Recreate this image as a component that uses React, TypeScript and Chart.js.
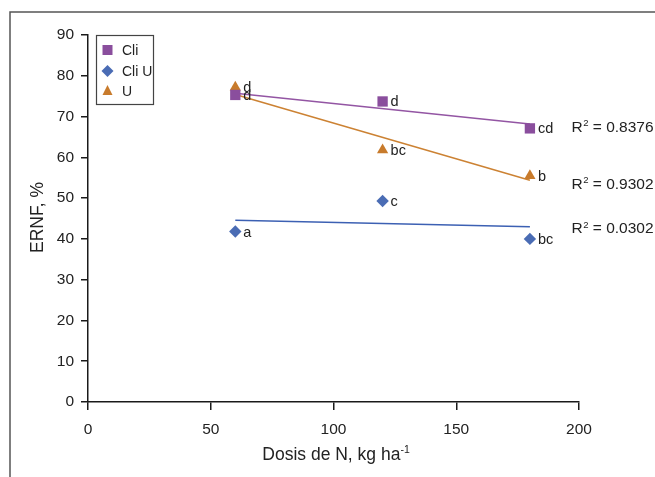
import React, { useEffect, useRef } from 'react';
import { Chart, registerables } from 'chart.js';
Chart.register(...registerables);

const doses = [60, 120, 180];
const cli = [75.3, 73.7, 67.1];
const cliU = [41.8, 49.3, 40.0];
const u = [77.2, 61.8, 55.5];
const cliLetters = ['d', 'd', 'cd'];
const cliULetters = ['a', 'c', 'bc'];
const uLetters = ['d', 'bc', 'b'];
const trendX = [60, 180];
const trendCli = [75.7, 68.2];
const trendCliU = [44.6, 43.0];
const trendU = [75.4, 54.4];
const r2Values = ['0.8376', '0.9302', '0.0302'];
const seriesNames = ['Cli', 'Cli U', 'U'];

const PURPLE = '#8a4e9d';
const BLUE = '#4a6cb4';
const ORANGE = '#c87b2c';
const PURPLE_L = '#9355a3';
const BLUE_L = '#3c60b3';
const ORANGE_L = '#cc8233';
const TEXT = '#222';
const FONT = '"Liberation Sans", Arial, sans-serif';

function pts(xs: number[], ys: number[]) {
  return xs.map((x, i) => ({ x, y: ys[i] }));
}

function drawMarker(ctx: CanvasRenderingContext2D, kind: string, x: number, y: number, color: string) {
  ctx.save();
  ctx.fillStyle = color;
  ctx.beginPath();
  if (kind === 'rect') {
    ctx.rect(x - 5, y - 5, 10, 10);
  } else if (kind === 'diamond') {
    ctx.moveTo(x, y - 6);
    ctx.lineTo(x + 6, y);
    ctx.lineTo(x, y + 6);
    ctx.lineTo(x - 6, y);
    ctx.closePath();
  } else {
    ctx.moveTo(x, y - 6);
    ctx.lineTo(x + 5, y + 4);
    ctx.lineTo(x - 5, y + 4);
    ctx.closePath();
  }
  ctx.fill();
  ctx.restore();
}

const decorPlugin = {
  id: 'decor',
  afterDraw(chart: any) {
    const ctx: CanvasRenderingContext2D = chart.ctx;
    ctx.save();
    // frame
    ctx.strokeStyle = '#555';
    ctx.lineWidth = 1.5;
    ctx.beginPath();
    ctx.moveTo(10, 477);
    ctx.lineTo(10, 12);
    ctx.lineTo(655, 12);
    ctx.stroke();

    // point letters
    const letterSets = [cliLetters, cliULetters, uLetters];
    ctx.fillStyle = TEXT;
    ctx.font = `14.5px ${FONT}`;
    ctx.textAlign = 'left';
    ctx.textBaseline = 'middle';
    letterSets.forEach((letters, di) => {
      const meta = chart.getDatasetMeta(di);
      meta.data.forEach((el: any, i: number) => {
        ctx.fillText(letters[i], el.x + 8, el.y + 1);
      });
    });

    // legend
    ctx.strokeStyle = '#444';
    ctx.lineWidth = 1.2;
    ctx.strokeRect(96.5, 35.5, 57, 69);
    const kinds = ['rect', 'diamond', 'tri'];
    const cols = [PURPLE, BLUE, ORANGE];
    const ly = [50, 71, 91];
    seriesNames.forEach((n, i) => {
      drawMarker(ctx, kinds[i], 107.5, ly[i], cols[i]);
      ctx.fillStyle = TEXT;
      ctx.font = `14px ${FONT}`;
      ctx.textAlign = 'left';
      ctx.textBaseline = 'middle';
      ctx.fillText(n, 122, ly[i] + 1);
    });

    // R2 labels
    const rb = [131.5, 188.5, 233];
    r2Values.forEach((v, i) => {
      ctx.fillStyle = TEXT;
      ctx.textBaseline = 'alphabetic';
      ctx.textAlign = 'left';
      ctx.font = `15.5px ${FONT}`;
      let x = 571.5;
      ctx.fillText('R', x, rb[i]);
      x += ctx.measureText('R').width;
      ctx.font = `9.5px ${FONT}`;
      ctx.fillText('2', x + 0.5, rb[i] - 5.5);
      x += ctx.measureText('2').width + 0.5;
      ctx.font = `15.5px ${FONT}`;
      ctx.fillText(' = ' + v, x, rb[i]);
    });

    // x title
    ctx.font = `17.5px ${FONT}`;
    const main = 'Dosis de N, kg ha';
    const wMain = ctx.measureText(main).width;
    ctx.font = `10.5px ${FONT}`;
    const wSup = ctx.measureText('-1').width;
    const start = 336 - (wMain + wSup) / 2;
    ctx.font = `17.5px ${FONT}`;
    ctx.fillText(main, start, 460);
    ctx.font = `10.5px ${FONT}`;
    ctx.fillText('-1', start + wMain, 453);

    // y title
    ctx.save();
    ctx.translate(42.5, 217.5);
    ctx.rotate(-Math.PI / 2);
    ctx.font = `17.5px ${FONT}`;
    ctx.textAlign = 'center';
    ctx.textBaseline = 'alphabetic';
    ctx.fillText('ERNF, %', 0, 0);
    ctx.restore();

    ctx.restore();
  },
};

export default function App() {
  const ref = useRef<HTMLCanvasElement>(null);
  useEffect(() => {
    document.body.style.margin = '0';
    const canvas = ref.current!;
    const chart = new Chart(canvas, {
      type: 'scatter',
      data: {
        datasets: [
          { label: 'Cli', data: pts(doses, cli), pointStyle: 'rect', pointRadius: 7.3, pointHoverRadius: 7.3, backgroundColor: PURPLE, borderWidth: 0, showLine: false },
          { label: 'Cli U', data: pts(doses, cliU), pointStyle: 'rectRot', pointRadius: 6.2, pointHoverRadius: 6.2, backgroundColor: BLUE, borderWidth: 0, showLine: false },
          { label: 'U', data: pts(doses, u), pointStyle: 'triangle', pointRadius: 6.5, pointHoverRadius: 6.5, backgroundColor: ORANGE, borderWidth: 0, showLine: false },
          { label: 'tCli', data: pts(trendX, trendCli), showLine: true, pointRadius: 0, borderColor: PURPLE_L, borderWidth: 1.5 },
          { label: 'tCliU', data: pts(trendX, trendCliU), showLine: true, pointRadius: 0, borderColor: BLUE_L, borderWidth: 1.5 },
          { label: 'tU', data: pts(trendX, trendU), showLine: true, pointRadius: 0, borderColor: ORANGE_L, borderWidth: 1.5 },
        ] as any,
      },
      options: {
        animation: false,
        responsive: false,
        devicePixelRatio: 1,
        layout: { padding: { top: 35, right: 76, left: 0, bottom: 0 } },
        plugins: { legend: { display: false }, tooltip: { enabled: false } },
        scales: {
          x: {
            type: 'linear',
            min: 0,
            max: 200,
            afterFit: (s: any) => { s.height = 75; },
            ticks: { stepSize: 50, color: TEXT, font: { size: 15.5, family: FONT }, padding: 10, maxRotation: 0 },
            grid: { drawOnChartArea: false, drawTicks: true, tickLength: 8, color: '#1a1a1a', lineWidth: 1.5 },
            border: { display: true, color: '#1a1a1a', width: 1.5 },
          },
          y: {
            type: 'linear',
            min: 0,
            max: 90,
            afterFit: (s: any) => { s.width = 88; },
            ticks: { stepSize: 10, color: TEXT, font: { size: 15.5, family: FONT }, padding: 7 },
            grid: { drawOnChartArea: false, drawTicks: true, tickLength: 7, color: '#1a1a1a', lineWidth: 1.5 },
            border: { display: true, color: '#1a1a1a', width: 1.5 },
          },
        },
      } as any,
      plugins: [decorPlugin],
    });
    return () => chart.destroy();
  }, []);
  return (
    <div style={{ position: 'absolute', left: 0, top: 0, width: 655, height: 477, background: '#fff' }}>
      <canvas ref={ref} width={655} height={477} style={{ width: 655, height: 477 }} />
    </div>
  );
}
